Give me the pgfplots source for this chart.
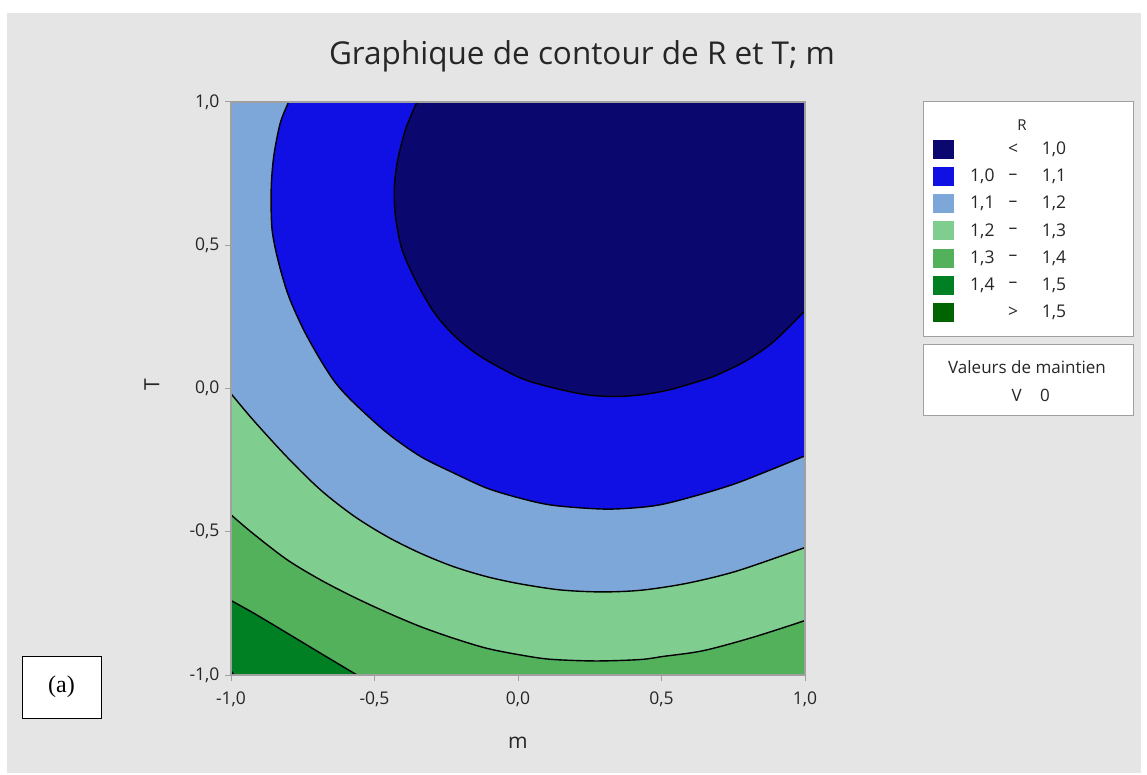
\documentclass[border=0pt]{standalone}
\usepackage{pgfplots}
\usepackage{pgfplotstable}
\pgfplotsset{compat=1.18}
\usepackage{fontspec}
\setmainfont{Open Sans}
\newfontfamily\seriffont{Liberation Serif}
\definecolor{bg}{RGB}{229,229,229}
\definecolor{cA}{RGB}{10,8,110}
\definecolor{cB}{RGB}{16,16,228}
\definecolor{cC}{RGB}{125,167,216}
\definecolor{cD}{RGB}{128,206,143}
\definecolor{cE}{RGB}{83,176,91}
\definecolor{cF}{RGB}{0,128,35}
\definecolor{cG}{RGB}{0,100,0}
\definecolor{frame}{RGB}{160,160,160}
% contour R = 1.0
\pgfplotstableread{
m T
-0.352 1.000
-0.392 0.904
-0.421 0.788
-0.431 0.695
-0.427 0.601
-0.404 0.485
-0.355 0.374
-0.294 0.268
-0.224 0.186
-0.131 0.112
0.008 0.037
0.124 0.002
0.240 -0.022
0.335 -0.028
0.430 -0.022
0.530 -0.004
0.658 0.034
0.704 0.052
0.797 0.098
0.890 0.163
1.000 0.271
}\cA
% contour R = 1.1
\pgfplotstableread{
m T
-0.799 1.000
-0.828 0.928
-0.851 0.811
-0.860 0.695
-0.857 0.555
-0.834 0.439
-0.799 0.322
-0.747 0.205
-0.689 0.101
-0.636 0.020
-0.572 -0.050
-0.456 -0.155
-0.340 -0.237
-0.224 -0.295
-0.108 -0.348
0.008 -0.383
0.124 -0.408
0.310 -0.421
0.470 -0.410
0.588 -0.383
0.763 -0.330
1.000 -0.235
}\cB
% contour R = 1.2
\pgfplotstableread{
m T
-1.000 -0.018
-0.921 -0.112
-0.804 -0.240
-0.688 -0.354
-0.572 -0.445
-0.456 -0.517
-0.340 -0.575
-0.224 -0.622
-0.108 -0.657
0.008 -0.682
0.147 -0.703
0.290 -0.710
0.430 -0.704
0.588 -0.680
0.763 -0.637
1.000 -0.555
}\cC
% contour R = 1.3
\pgfplotstableread{
m T
-1.000 -0.441
-0.921 -0.508
-0.804 -0.598
-0.688 -0.668
-0.572 -0.728
-0.456 -0.782
-0.340 -0.831
-0.224 -0.872
-0.108 -0.907
0.008 -0.930
0.112 -0.945
0.270 -0.951
0.426 -0.946
0.507 -0.935
0.646 -0.915
0.820 -0.868
1.000 -0.810
}\cD
% contour R = 1.4
\pgfplotstableread{
m T
-1.000 -0.740
-0.921 -0.784
-0.804 -0.854
-0.688 -0.924
-0.561 -1.000
}\cE
% contour R = 1.5
\pgfplotstableread{
m T
-1.000 -0.985
-0.990 -1.000
}\cF
\begin{document}
\begin{tikzpicture}[x=1pt,y=1pt]
\fill[white] (0,0) rectangle (1147,774);
\fill[bg] (7,1) rectangle (1141,761);
\begin{axis}[
  at={(231pt,99pt)}, anchor=south west, scale only axis,
  width=574pt, height=573pt,
  xmin=-1, xmax=1, ymin=-1, ymax=1,
  axis on top,
  axis line style={draw=frame, line width=1.2pt},
  tick align=outside, xtick pos=bottom, ytick pos=left,
  major tick length=6pt,
  tick style={draw=frame, line width=1pt},
  xtick={-1,-0.5,0,0.5,1}, ytick={-1,-0.5,0,0.5,1},
  ticklabel style={font=\fontsize{17.5}{20}\selectfont, text=black!85},
  xticklabel style={yshift=-7pt},
  yticklabel style={xshift=-2pt},
  /pgf/number format/.cd, fixed, fixed zerofill, precision=1, use comma, assume math mode=true,
]
% > 1.5 (whole square as background)
\addplot[fill=cG, draw=none, forget plot] coordinates {(-1,-1) (1,-1) (1,1) (-1,1)};
% < 1.5
\addplot[fill=cF, draw=none, forget plot] table {\cF} -- (axis cs:1,-1) -- (axis cs:1,1) -- (axis cs:-1,1) -- cycle;
% < 1.4
\addplot[fill=cE, draw=none, smooth, forget plot] table {\cE} -- (axis cs:1,-1) -- (axis cs:1,1) -- (axis cs:-1,1) -- cycle;
% < 1.3
\addplot[fill=cD, draw=none, smooth, forget plot] table {\cD} -- (axis cs:1,1) -- (axis cs:-1,1) -- cycle;
% < 1.2
\addplot[fill=cC, draw=none, smooth, forget plot] table {\cC} -- (axis cs:1,1) -- (axis cs:-1,1) -- cycle;
% < 1.1
\addplot[fill=cB, draw=none, smooth, forget plot] table {\cB} -- (axis cs:1,1) -- cycle;
% < 1.0
\addplot[fill=cA, draw=none, smooth, forget plot] table {\cA} -- (axis cs:1,1) -- cycle;
% contour lines
\addplot[black, line width=1.4pt, forget plot] table {\cF};
\addplot[black, line width=1.4pt, smooth, forget plot] table {\cE};
\addplot[black, line width=1.4pt, smooth, forget plot] table {\cD};
\addplot[black, line width=1.4pt, smooth, forget plot] table {\cC};
\addplot[black, line width=1.4pt, smooth, forget plot] table {\cB};
\addplot[black, line width=1.4pt, smooth, forget plot] table {\cA};
\end{axis}
% title and axis labels
\node[font=\fontsize{31.5}{36}\selectfont, text=black!85] at (582,718) {Graphique de contour de R et T; m};
\node[font=\fontsize{21}{24}\selectfont, text=black!85] at (518,31) {m};
\node[font=\fontsize{21}{24}\selectfont, text=black!85, rotate=90] at (152,389) {T};
% (a) label
\draw[black, line width=0.8pt, fill=white] (22,56) rectangle (101,118);
\node[font=\seriffont\fontsize{24}{28}\selectfont] at (61.5,87) {(a)};
% legend
\draw[frame, line width=1pt, fill=white] (923,437) rectangle (1133,672);
\node[font=\fontsize{15}{18}\selectfont, text=black!85] at (1022,649) {R};
\foreach \c/\k/\a/\d/\b in {cA/0//</1{,}0, cB/1/1{,}0/–/1{,}1, cC/2/1{,}1/–/1{,}2, cD/3/1{,}2/–/1{,}3, cE/4/1{,}3/–/1{,}4, cF/5/1{,}4/–/1{,}5, cG/6//>/1{,}5}{
  \pgfmathsetmacro{\yy}{624.7-27.2*\k}
  \fill[\c] (932.7,\yy-9.5) rectangle (954.3,\yy+9.5);
  \node[anchor=west, inner sep=0pt, font=\fontsize{17.5}{20}\selectfont, text=black!85] at (970,\yy) {\a};
  \node[inner sep=0pt, font=\fontsize{17.5}{20}\selectfont, text=black!85] at (1013,\yy) {\d};
  \node[anchor=west, inner sep=0pt, font=\fontsize{17.5}{20}\selectfont, text=black!85] at (1041.7,\yy) {\b};
}
\draw[frame, line width=1pt, fill=white] (923,358) rectangle (1133,429);
\node[font=\fontsize{17}{20}\selectfont, text=black!85] at (1027,407.3) {Valeurs de maintien};
\node[font=\fontsize{17}{20}\selectfont, text=black!85] at (1016.7,379) {V};
\node[font=\fontsize{17}{20}\selectfont, text=black!85] at (1045,379) {0};
\end{tikzpicture}
\end{document}
